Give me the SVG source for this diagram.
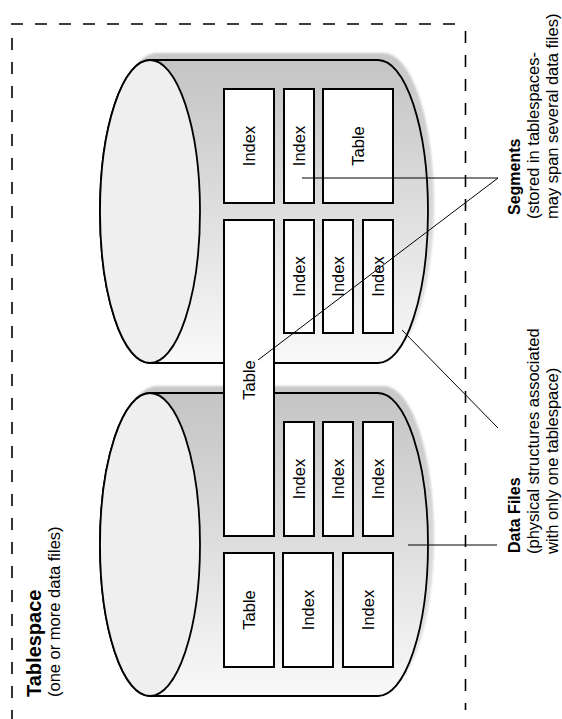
<svg xmlns="http://www.w3.org/2000/svg" width="562" height="719" viewBox="0 0 562 719">
<defs>
<linearGradient id="bodyGrad" x1="0" y1="0" x2="0" y2="1">
<stop offset="0" stop-color="#c4c4c4"/>
<stop offset="0.5" stop-color="#dedede"/>
<stop offset="1" stop-color="#f9f9f9"/>
</linearGradient>
<linearGradient id="shadowGrad" x1="0" y1="0" x2="0" y2="1">
<stop offset="0" stop-color="#c8c8c8"/>
<stop offset="1" stop-color="#e6e6e6"/>
</linearGradient>
<filter id="soft" x="-10%" y="-10%" width="120%" height="120%">
<feGaussianBlur stdDeviation="1.2"/>
</filter>
</defs>
<style>
.dash{fill:none;stroke:#000;stroke-width:1.6;stroke-dasharray:12 12}
.body{fill:url(#bodyGrad);stroke:#000;stroke-width:1.8}
.shadow{fill:url(#shadowGrad);stroke:none}
.face{fill:#efefef;stroke:#000;stroke-width:1.8}
.box{fill:#fff;stroke:#000;stroke-width:2}
.lbl{font-family:"Liberation Sans",Arial,sans-serif;font-size:16.5px;fill:#000;text-anchor:middle}
.ann{font-family:"Liberation Sans",Arial,sans-serif;font-size:16.5px;fill:#000}
.bold{font-weight:bold;font-size:16px}
.title{font-family:"Liberation Sans",Arial,sans-serif;font-weight:bold;font-size:20px;fill:#000}
.conn{stroke:#000;stroke-width:1;fill:none}
</style>

<g id="tablespace">
<path class="dash" d="M11,24 H466"/>
<path class="dash" d="M12,38 V719"/>
<path class="dash" d="M465.5,31 V710"/>
<text class="title" transform="translate(41,697) rotate(-90)">Tablespace</text>
<text class="ann" transform="translate(60,697) rotate(-90)">(one or more data files)</text>
</g>

<g id="datafile1">
<path class="shadow" filter="url(#soft)" transform="translate(6,-7)" d="M150,60 H378 A50,151.5 0 0 1 378,363 H150 A50,151.5 0 0 1 150,60 Z"/>
<path class="body" d="M150,60 H378 A50,151.5 0 0 1 378,363 H150 A50,151.5 0 0 1 150,60 Z"/>
<ellipse class="face" cx="150" cy="211.5" rx="50" ry="151.5"/>
</g>

<g id="datafile2">
<path class="shadow" filter="url(#soft)" transform="translate(6,-7)" d="M150,393 H378 A50,151.5 0 0 1 378,696 H150 A50,151.5 0 0 1 150,393 Z"/>
<path class="body" d="M150,393 H378 A50,151.5 0 0 1 378,696 H150 A50,151.5 0 0 1 150,393 Z"/>
<ellipse class="face" cx="150" cy="544.5" rx="50" ry="151.5"/>
</g>

<g id="seg1"><rect class="box" x="224" y="89" width="50" height="114"/><text class="lbl" transform="translate(249,146) rotate(-90)" dy="0.35em">Index</text></g>
<g id="seg2"><rect class="box" x="284" y="89" width="30" height="114"/><text class="lbl" transform="translate(299,146) rotate(-90)" dy="0.35em">Index</text></g>
<g id="seg3"><rect class="box" x="323" y="89" width="70" height="114"/><text class="lbl" transform="translate(358,146) rotate(-90)" dy="0.35em">Table</text></g>
<g id="seg4"><rect class="box" x="224" y="220" width="50" height="316"/><text class="lbl" transform="translate(249,380) rotate(-90)" dy="0.35em">Table</text></g>
<g id="seg5"><rect class="box" x="284" y="220" width="30" height="113"/><text class="lbl" transform="translate(299,276.5) rotate(-90)" dy="0.35em">Index</text></g>
<g id="seg6"><rect class="box" x="323" y="220" width="30" height="113"/><text class="lbl" transform="translate(338,276.5) rotate(-90)" dy="0.35em">Index</text></g>
<g id="seg7"><rect class="box" x="363" y="220" width="30" height="113"/><text class="lbl" transform="translate(378,276.5) rotate(-90)" dy="0.35em">Index</text></g>
<g id="seg8"><rect class="box" x="284" y="422" width="30" height="114"/><text class="lbl" transform="translate(299,479) rotate(-90)" dy="0.35em">Index</text></g>
<g id="seg9"><rect class="box" x="323" y="422" width="30" height="114"/><text class="lbl" transform="translate(338,479) rotate(-90)" dy="0.35em">Index</text></g>
<g id="seg10"><rect class="box" x="363" y="422" width="30" height="114"/><text class="lbl" transform="translate(378,479) rotate(-90)" dy="0.35em">Index</text></g>
<g id="seg11"><rect class="box" x="224" y="553" width="50" height="114"/><text class="lbl" transform="translate(249,610) rotate(-90)" dy="0.35em">Table</text></g>
<g id="seg12"><rect class="box" x="283" y="553" width="50" height="114"/><text class="lbl" transform="translate(308,610) rotate(-90)" dy="0.35em">Index</text></g>
<g id="seg13"><rect class="box" x="343" y="553" width="50" height="114"/><text class="lbl" transform="translate(368,610) rotate(-90)" dy="0.35em">Index</text></g>

<g id="segments-label">
<text class="ann bold" transform="translate(519.5,215) rotate(-90)">Segments</text>
<text class="ann" transform="translate(539,219) rotate(-90)">(stored in tablespaces-</text>
<text class="ann" transform="translate(558,219) rotate(-90)">may span several data files)</text>
</g>

<g id="datafiles-label">
<text class="ann bold" transform="translate(519.5,553) rotate(-90)">Data Files</text>
<text class="ann" transform="translate(539,554) rotate(-90)">(physical structures associated</text>
<text class="ann" transform="translate(558,554) rotate(-90)">with only one tablespace)</text>
</g>

<g id="connectors">
<path class="conn" d="M302,178 H498 L258,360"/>
<path class="conn" d="M402,330 L498,428"/>
<path class="conn" d="M408,545 H497"/>
</g>
</svg>
